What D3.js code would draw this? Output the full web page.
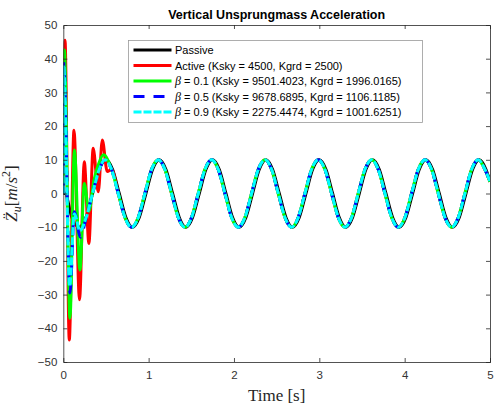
<!DOCTYPE html>
<html><head><meta charset="utf-8">
<script src="https://cdn.jsdelivr.net/npm/d3@7"></script>
<style>body{margin:0;background:#fff}svg{display:block}</style>
</head><body><svg id="c" width="497" height="409"></svg>
<script>
// ---------- data ----------
const xTicks = [0, 1, 2, 3, 4, 5];
const yTicks = [-50, -40, -30, -20, -10, 0, 10, 20, 30, 40, 50];
const labels = ["Passive", "Active (Ksky = 4500, Kgrd = 2500)",
  " = 0.1 (Ksky = 9501.4023, Kgrd = 1996.0165)",
  " = 0.5 (Ksky = 9678.6895, Kgrd = 1106.1185)",
  " = 0.9 (Ksky = 2275.4474, Kgrd = 1001.6251)"];

// steady-state samples (common to the controlled cases)
const tSteady = [0.566,0.644,0.722,0.800,0.878,0.956,1.034,1.113,1.191,1.269,1.347,1.425,1.503,1.581,1.659,1.738,1.816,1.894,1.972,2.050,2.128,2.206,2.284,2.363,2.441,2.519,2.597,2.675,2.753,2.831,2.909,2.988,3.066,3.144,3.222,3.300,3.378,3.456,3.534,3.613,3.691,3.769,3.847,3.925,4.003,4.081,4.159,4.238,4.316,4.394,4.472,4.550,4.628,4.706,4.784,4.863,4.941,5.000];
const vSteady = [7.1,0,-7.1,-10,-7.1,0,7.1,10,7.1,0,-7.1,-10,-7.1,0,7.1,10,7.1,0,-7.1,-10,-7.1,0,7.1,10,7.1,0,-7.1,-10,-7.1,0,7.1,10,7.1,0,-7.1,-10,-7.1,0,7.1,10,7.1,0,-7.1,-10,-7.1,0,7.1,10,7.1,0,-7.1,-10,-7.1,0,7.1,10,7.1,3.5];

// passive (slightly lagging)
const tPassive = [0,0.02,0.10,0.185,0.265,0.343,0.421,0.500,0.578,0.656,0.734,0.812,0.890,0.968,1.046,1.125,1.203,1.281,1.359,1.437,1.515,1.593,1.671,1.750,1.828,1.906,1.984,2.062,2.140,2.218,2.296,2.375,2.453,2.531,2.609,2.687,2.765,2.843,2.921,3.000,3.078,3.156,3.234,3.312,3.390,3.468,3.546,3.625,3.703,3.781,3.859,3.937,4.015,4.093,4.171,4.250,4.328,4.406,4.484,4.562,4.640,4.718,4.796,4.875,4.953,5.000];
const vPassive = [0,0,-7.1,-10,-7.1,0,7.1,10,7.1,0,-7.1,-10,-7.1,0,7.1,10,7.1,0,-7.1,-10,-7.1,0,7.1,10,7.1,0,-7.1,-10,-7.1,0,7.1,10,7.1,0,-7.1,-10,-7.1,0,7.1,10,7.1,0,-7.1,-10,-7.1,0,7.1,10,7.1,0,-7.1,-10,-7.1,0,7.1,10,7.1,0,-7.1,-10,-7.1,0,7.1,10,7.1,3.5];

// transients
const tActive = [0,0.02,0.07,0.125,0.19,0.246,0.30,0.35,0.41,0.457,0.515];
const vActive = [0,45.5,-43.5,18.8,-31.5,9.4,-14.8,13.4,0.5,15.9,6.5];
const tBeta1 = [0,0.012,0.078,0.13,0.195,0.246,0.30,0.36,0.41,0.47];
const vBeta1 = [0,42.6,-37,12.9,-22.7,3,-5.2,4,8.5,11.5];
const tBeta5 = [0,0.006,0.078,0.13,0.20,0.265,0.343,0.421,0.488];
const vBeta5 = [0,39,-29.5,-5.4,-13,-7.5,0,7.1,10];
const tBeta9 = [0,0.005,0.074,0.13,0.195,0.265,0.343,0.421,0.488];
const vBeta9 = [0,38,-27.5,-6,-11,-7.3,0,7.1,10];

// ---------- layout ----------
const svg = d3.select("#c");
const L = 63.3, R = 490, T = 25, B = 362;
const x = d3.scaleLinear().domain([0, 5]).range([L, R]);
const y = d3.scaleLinear().domain([-50, 50]).range([B, T]);
const axisColor = "#262626";
const font = "'Liberation Sans', Arial, Helvetica, sans-serif";

const plot = svg.append("g");
plot.append("defs").append("clipPath").attr("id","clip")
  .append("rect").attr("x",L).attr("y",T).attr("width",R-L).attr("height",B-T);

const zip = (ts, vs) => ts.map((t,i)=>[t, vs[i]]);
const series = [
  {name:"passive", pts: zip(tPassive, vPassive), color:"#000000", w:3, dash:null},
  {name:"active", pts: zip(tActive, vActive).concat(zip(tSteady, vSteady)), color:"#ff0000", w:3, dash:null},
  {name:"b1", pts: zip(tBeta1, vBeta1).concat(zip(tSteady, vSteady)), color:"#00ff00", w:3, dash:null},
  {name:"b5", pts: zip(tBeta5, vBeta5).concat(zip(tSteady, vSteady)), color:"#0000ff", w:3, dash:"11,9"},
  {name:"b9", pts: zip(tBeta9, vBeta9).concat(zip(tSteady, vSteady)), color:"#00ffff", w:3, dash:"8,2"}
];
const line = d3.line().x(d=>x(d[0])).y(d=>y(d[1])).curve(d3.curveMonotoneX);
const lg = plot.append("g").attr("clip-path","url(#clip)");
series.forEach(s=>{
  lg.append("path").attr("d", line(s.pts)).attr("fill","none")
    .attr("stroke", s.color).attr("stroke-width", s.w)
    .attr("stroke-linejoin","round")
    .attr("stroke-dasharray", s.dash);
});

// ---------- axes ----------
const xb = svg.append("g").attr("transform",`translate(0,${B})`)
  .call(d3.axisBottom(x).tickValues(xTicks).tickSize(-4).tickPadding(9).tickFormat(d3.format("d")));
const xt = svg.append("g").attr("transform",`translate(0,${T})`)
  .call(d3.axisTop(x).tickValues(xTicks).tickSize(-4).tickFormat(""));
const yl = svg.append("g").attr("transform",`translate(${L},0)`)
  .call(d3.axisLeft(y).tickValues(yTicks).tickSize(-4).tickPadding(6).tickFormat(d3.format("d")));
const yr = svg.append("g").attr("transform",`translate(${R},0)`)
  .call(d3.axisRight(y).tickValues(yTicks).tickSize(-4).tickFormat(""));
[xb, xt, yl, yr].forEach(g=>{
  g.select(".domain").attr("stroke", axisColor).attr("stroke-width", 0.8);
  g.selectAll(".tick line").attr("stroke", axisColor).attr("stroke-width", 0.8);
  g.selectAll("text").attr("font-family", font).attr("font-size", 11.5).attr("fill", "#333");
});
xb.selectAll(".tick").filter(d=>d===0||d===5).select("line").remove();
xt.selectAll(".tick").filter(d=>d===0||d===5).select("line").remove();
yl.selectAll(".tick").filter(d=>d===50||d===-50).select("line").remove();
yr.selectAll(".tick").filter(d=>d===50||d===-50).select("line").remove();

// title
svg.append("text").attr("x", (L+R)/2).attr("y", 19).attr("text-anchor","middle")
  .attr("font-family", font).attr("font-weight","bold").attr("font-size", 12.5)
  .attr("fill","#000").text("Vertical Unsprungmass Acceleration");

// x label
svg.append("text").attr("x", (L+R)/2).attr("y", 401).attr("text-anchor","middle")
  .attr("font-family","'Liberation Serif','Times New Roman',serif").attr("font-size", 17)
  .attr("fill", axisColor).text("Time [s]");

// y label
const ylab = svg.append("text").attr("transform", `translate(17,${(T+B)/2}) rotate(-90)`)
  .attr("text-anchor","middle").attr("font-family","'Liberation Serif','Times New Roman',serif")
  .attr("font-size", 17).attr("fill", axisColor);
ylab.append("tspan").attr("font-style","italic").text("Z\u0308");
ylab.append("tspan").attr("font-style","italic").attr("font-size", 12).attr("dy", 4).text("u");
ylab.append("tspan").attr("dy", -4).text("[");
ylab.append("tspan").attr("font-style","italic").text("m");
ylab.append("tspan").text("/");
ylab.append("tspan").attr("font-style","italic").text("s");
ylab.append("tspan").attr("font-size", 12).attr("dy", -7).text("2");
ylab.append("tspan").attr("dy", 7).text("]");

// ---------- legend ----------
const leg = svg.append("g");
leg.append("rect").attr("x",128.5).attr("y",40.5).attr("width",294).attr("height",82)
  .attr("fill","#fff").attr("stroke","#9a9a9a").attr("stroke-width",0.8);
const rowY = [50, 65.5, 81, 96.5, 112];
series.forEach((s,i)=>{
  leg.append("line").attr("x1",133.5).attr("x2",171.5).attr("y1",rowY[i]).attr("y2",rowY[i])
    .attr("stroke", s.color).attr("stroke-width", s.w).attr("stroke-dasharray", s.dash);
  const t = leg.append("text").attr("x",175).attr("y",rowY[i]+4)
    .attr("font-family", font).attr("font-size", 11).attr("fill","#000");
  if (i >= 2) {
    t.append("tspan").attr("font-family","'Liberation Serif','Times New Roman',serif")
      .attr("font-style","italic").attr("font-size", 12).text("\u03B2");
  }
  t.append("tspan").text(labels[i]);
});
</script></body></html>
